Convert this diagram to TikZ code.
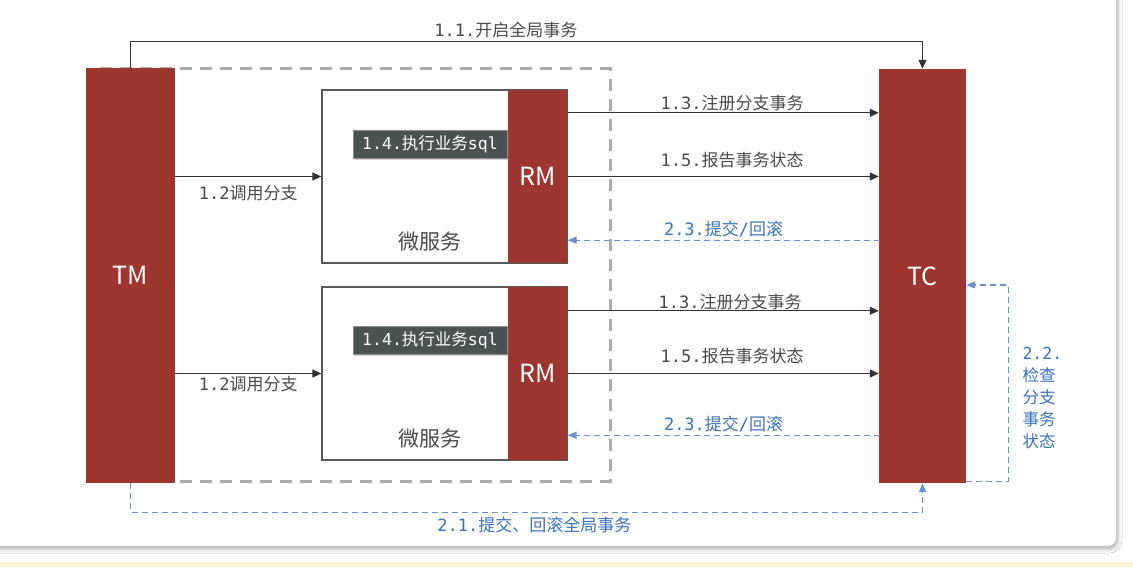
\documentclass[tikz,border=0pt]{standalone}
\usepackage{fontspec}
\setmainfont{Noto Sans CJK SC}
\newfontfamily\monofont{DejaVu Sans Mono}
\usetikzlibrary{arrows.meta,positioning,shadows,shadows.blur}
\definecolor{svcred}{HTML}{9C362E}
\definecolor{lineblue}{HTML}{6A91CC}
\definecolor{txtblue}{HTML}{3B72BA}
\definecolor{txtgray}{HTML}{4A4A4A}
\definecolor{tagfill}{HTML}{4B5352}
\definecolor{dashgray}{HTML}{ABABAB}
\definecolor{yellowline}{HTML}{FCF2D7}
\newcommand{\mn}[1]{{\monofont #1}}

\begin{document}
\begin{tikzpicture}[x=1pt,y=-1pt,
font=\fontsize{17}{20}\selectfont,
actor/.style={fill=svcred,text=white,inner sep=0pt,font=\fontsize{25}{30}\selectfont},
svc/.style={draw=black!65,line width=1.2pt,fill=white,minimum width=245pt,minimum height=173pt,inner sep=0pt},
tag/.style={fill=tagfill,draw=black!45,text=white,minimum width=154pt,minimum height=28pt,inner sep=0pt,font=\fontsize{16.5}{20}\selectfont,drop shadow={shadow xshift=1.5pt,shadow yshift=-2pt,opacity=0.35}},
group/.style={draw=dashgray,line width=3pt,dash pattern=on 12pt off 8pt,minimum width=510pt,minimum height=412pt,inner sep=0pt},
svcname/.style={text=txtgray,font=\fontsize{21}{25}\selectfont},
arr/.style={-{Triangle[length=9pt,width=8pt]},line width=1.1pt,draw=black!80},
back/.style={-{Triangle[length=9pt,width=7pt]},line width=1.1pt,draw=lineblue,dash pattern=on 6pt off 4pt},
lbl/.style={text=txtgray},
blbl/.style={text=txtblue}
]
\useasboundingbox (0,0) rectangle (1133,569);
\fill[white] (0,0) rectangle (1133,569);
\fill[white,rounded corners=8pt,blur shadow={shadow xshift=1pt,shadow yshift=-2pt,shadow blur radius=5pt}] (-12,-12) rectangle (1116,546);
\fill[yellowline] (0,562) rectangle (1133,567);

% scope of the global transaction
\node[group] (grp) at (355,275) {};

\node[actor,minimum width=89pt,minimum height=415pt] (tm) at (130.5,275.5) {TM};
\node[actor,minimum width=87pt,minimum height=414pt] (tc) at (922.5,276) {TC};

% two micro services
\node[svc] (ms1) at (444.5,176.5) {};
\node[actor,minimum width=59pt,minimum height=173pt,anchor=east] (rm1) at (ms1.east) {RM};
\node[tag] (tag1) at (430,144) {\mn{1.4.}执行业务\mn{sql}};
\node[svcname] (name1) at (430,242) {微服务};

\node[svc] (ms2) at (444.5,373.5) {};
\node[actor,minimum width=59pt,minimum height=173pt,anchor=east] (rm2) at (ms2.east) {RM};
\node[tag] (tag2) at (430,340) {\mn{1.4.}执行业务\mn{sql}};
\node[svcname] (name2) at (430,439) {微服务};

% phase 1
\draw[arr] (tm.north) -- ++(0,-26) -| node[lbl,pos=0.237,above=0pt]{\mn{1.1.}开启全局事务} (tc.north);
\draw[arr] (tm.east |- ms1.west) -- node[lbl,below=5pt]{\mn{1.2}调用分支} (ms1.west);
\draw[arr] (tm.east |- ms2.west) -- node[lbl,below=-1pt]{\mn{1.2}调用分支} (ms2.west);
\draw[arr] ([yshift=-23pt]rm1.north east) coordinate (r13a) -- node[lbl,above=-2pt,xshift=9pt]{\mn{1.3.}注册分支事务} (r13a -| tc.west);
\draw[arr] (rm1.east) -- node[lbl,above=5pt,xshift=9pt]{\mn{1.5.}报告事务状态} (rm1.east -| tc.west);
\draw[arr] ([yshift=-24pt]rm2.north east) coordinate (r13b) -- node[lbl,above=-3pt,xshift=7pt]{\mn{1.3.}注册分支事务} (r13b -| tc.west);
\draw[arr] (rm2.east) -- node[lbl,above=6pt,xshift=9pt]{\mn{1.5.}报告事务状态} (rm2.east -| tc.west);

% phase 2
\draw[back] (tm.south) -- ++(0,29) -| node[blbl,pos=0.255,below=1pt]{\mn{2.1.}提交、回滚全局事务} (tc.south);
\draw[back] ([yshift=2pt]tc.south east) -- ++(42,0) coordinate (c22) |- ([yshift=-9pt]tc.east);
\node[blbl,align=left,anchor=west,font=\fontsize{16.5}{22}\selectfont] (lbl22) at (1019,398) {\mn{2.2.}\\检查\\分支\\事务\\状态};
\draw[back] ([yshift=23pt]rm1.south east) coordinate (r23a) ++(312,0) -- node[blbl,above=-1pt]{\mn{2.3.}提交\mn{/}回滚} (r23a);
\draw[back] ([yshift=25pt]rm2.south east) coordinate (r23b) ++(312,0) -- node[blbl,above=-1pt]{\mn{2.3.}提交\mn{/}回滚} (r23b);
\end{tikzpicture}
\end{document}
